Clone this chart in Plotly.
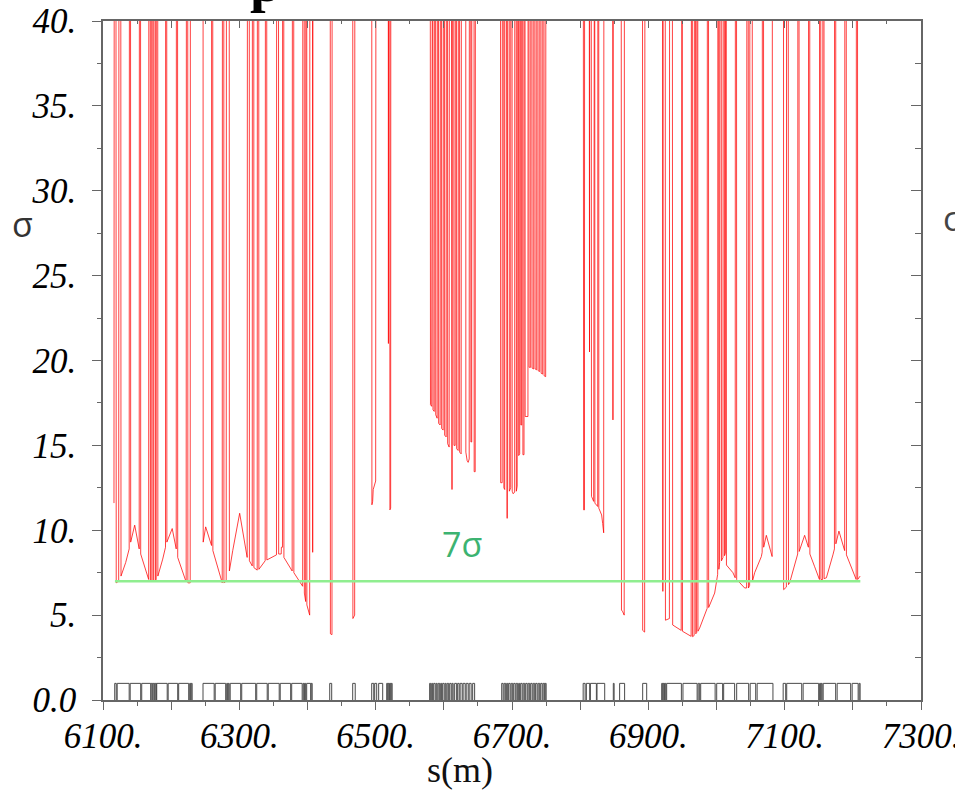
import plotly.graph_objects as go

# ---- aperture (n-sigma) along the ring, s in metres -------------------------
# values above the frame (60) are where the aperture is wide open
arc_left_s = [
    6116.1, 6116.6, 6118.9, 6119.4, 6123.0, 6123.5, 6126.0, 6126.4, 6133.3, 6138.4,
    6138.9, 6140.3, 6140.6, 6146.5, 6153.1, 6153.5, 6155.0, 6155.3, 6167.0, 6167.3,
    6169.2, 6169.5, 6170.7, 6171.0, 6172.9, 6173.2, 6174.4, 6174.7, 6176.6, 6176.9,
    6178.0, 6178.3, 6180.2, 6180.5, 6187.6, 6191.7, 6192.0, 6193.4, 6193.7, 6201.5,
    6207.4, 6207.8, 6209.3, 6209.6, 6222.0, 6222.5, 6224.2, 6224.5, 6227.9, 6228.3,
    6246.7, 6247.0, 6250.6, 6259.2, 6259.4, 6260.9, 6261.2, 6274.9, 6275.3, 6277.1,
    6277.4, 6280.7, 6281.2, 6285.1, 6285.4, 6290.3, 6300.5, 6311.5, 6312.0, 6314.5,
    6314.8, 6318.9, 6319.3, 6321.1, 6321.4, 6326.2, 6326.6, 6328.4, 6328.7, 6337.9,
    6338.4, 6340.1, 6340.4, 6354.5, 6354.8, 6357.4, 6357.7, 6361.4, 6361.7, 6363.3,
    6363.6, 6365.1, 6365.4, 6377.5, 6378.0, 6379.7, 6380.0, 6384.1, 6392.9, 6393.2,
    6395.1, 6395.4, 6397.3, 6397.6, 6398.8, 6399.1, 6403.2, 6403.5, 6407.3, 6407.6,
    6408.1, 6433.3, 6433.6, 6435.9, 6436.2, 6466.3, 6466.6, 6469.2, 6469.5, 6494.2,
    6494.5, 6495.6, 6496.4, 6500.0, 6500.5, 6518.4, 6518.7, 6519.1, 6520.6, 6520.9,
    6522.0, 6522.3,
]
arc_left_sigma = [
    11.6, 60, 60, 6.9, 7.0, 60, 60, 7.3, 8.1, 8.9,
    60, 60, 9.3, 10.3, 8.9, 60, 60, 8.6, 7.1, 60,
    60, 7.0, 7.0, 60, 60, 7.0, 7.0, 60, 60, 7.05,
    7.1, 60, 60, 7.3, 8.3, 9.0, 60, 60, 9.3, 10.1,
    8.9, 60, 60, 8.4, 6.95, 60, 60, 6.9, 6.9, 60,
    60, 9.3, 10.2, 9.1, 60, 60, 8.8, 6.9, 60, 60,
    6.9, 7.0, 60, 60, 7.6, 8.8, 11.0, 8.4, 60, 60,
    8.2, 7.9, 60, 60, 7.8, 7.65, 60, 60, 7.7, 8.2,
    60, 60, 8.25, 8.55, 60, 60, 8.6, 8.6, 9.0, 9.0,
    60, 60, 8.4, 7.6, 60, 60, 7.5, 7.25, 6.7, 60,
    60, 6.3, 5.8, 60, 60, 5.6, 5.0, 60, 60, 8.7,
    60, 60, 3.9, 3.85, 60, 60, 4.8, 5.0, 60, 60,
    11.5, 11.7, 12.4, 12.9, 60, 60, 21.0, 60, 60, 11.2,
    11.3, 60,
]

straight_a_s = [
    6580.0, 6580.4, 6582.2, 6582.6, 6583.6, 6584.1, 6585.9, 6586.3, 6587.8, 6588.1,
    6590.2, 6590.7, 6592.1, 6592.4, 6594.6, 6595.1, 6596.6, 6596.8, 6599.0, 6599.5,
    6601.0, 6601.2, 6603.4, 6603.9, 6605.4, 6605.6, 6607.8, 6608.3, 6610.8, 6612.0,
    6613.0, 6614.4, 6614.9, 6616.6, 6617.1, 6618.6, 6618.8, 6621.0, 6621.5, 6623.0,
    6623.2, 6625.4, 6625.9, 6632.1, 6632.3, 6634.2, 6635.7, 6637.2, 6637.6, 6639.4,
    6639.7, 6640.9, 6641.1, 6644.2, 6644.5, 6646.0, 6646.4,
]
straight_a_sigma = [
    60, 17.4, 17.3, 60, 60, 17.1, 17.0, 60, 60, 16.8,
    16.6, 60, 60, 16.3, 16.2, 60, 60, 16.0, 15.9, 60,
    60, 15.6, 15.5, 60, 60, 15.1, 14.9, 60, 60, 12.4,
    60, 60, 15.0, 15.0, 60, 60, 14.8, 14.7, 60, 60,
    14.6, 14.5, 60, 60, 14.6, 14.1, 14.0, 14.2, 60, 60,
    15.2, 15.2, 60, 60, 13.45, 13.45, 60,
]

straight_b_s = [
    6683.1, 6683.4, 6685.6, 6686.0, 6687.8, 6688.1, 6689.3, 6689.5, 6691.4, 6692.9,
    6694.1, 6695.9, 6696.1, 6698.1, 6698.3, 6700.0, 6700.3, 6701.7, 6703.9, 6704.2,
    6706.1, 6706.4, 6707.6, 6707.9, 6709.3, 6709.8, 6711.3, 6711.6, 6712.7, 6713.0,
    6714.2, 6714.5, 6715.7, 6716.0, 6717.6, 6717.9, 6719.0, 6719.3, 6723.4, 6723.7,
    6724.8, 6725.1, 6727.4, 6727.7, 6729.2, 6729.5, 6731.8, 6732.1, 6733.6, 6733.9,
    6736.2, 6736.5, 6738.0, 6738.3, 6740.6, 6740.9, 6742.4, 6742.7, 6745.0, 6745.3,
    6746.8, 6747.1, 6749.4, 6749.8,
]
straight_b_sigma = [
    60, 12.8, 12.8, 60, 60, 12.5, 12.4, 60, 60, 10.7,
    60, 60, 12.3, 12.5, 60, 60, 12.3, 12.15, 12.25, 60,
    60, 12.3, 12.6, 60, 60, 14.4, 14.5, 60, 60, 16.2,
    16.2, 60, 60, 14.45, 14.45, 60, 60, 16.7, 16.7, 60,
    60, 19.6, 19.6, 60, 60, 19.55, 19.5, 60, 60, 19.5,
    19.45, 60, 60, 19.4, 19.35, 60, 60, 19.25, 19.2, 60,
    60, 19.1, 19.05, 60,
]

arc_right_s = [
    6804.4, 6805.1, 6806.3, 6806.6, 6813.2, 6813.7, 6814.2, 6816.1, 6816.6, 6819.8,
    6820.3, 6821.3, 6821.6, 6825.7, 6826.1, 6827.2, 6827.4, 6831.5, 6833.0, 6834.5,
    6834.9, 6847.7, 6848.1, 6848.7, 6860.1, 6860.6, 6862.4, 6864.6, 6865.0, 6891.4,
    6891.7, 6894.6, 6895.1, 6920.7, 6921.3, 6921.9, 6924.7, 6925.1, 6930.9, 6931.3,
    6935.1, 6935.7, 6948.2, 6948.6, 6949.6, 6950.1, 6962.8, 6963.3, 6964.4, 6964.9,
    6967.2, 6967.7, 6969.1, 6969.6, 6970.9, 6971.3, 6972.4, 6972.8, 6975.3, 6986.3,
    6986.7, 6988.2, 6988.5, 6997.3, 7001.7, 7002.2, 7003.2, 7003.5, 7004.6, 7005.1,
    7006.8, 7007.3, 7009.5, 7009.9, 7011.4, 7011.8, 7013.0, 7013.4, 7014.2, 7014.6,
    7024.1, 7027.4, 7027.8, 7029.3, 7029.6, 7041.3, 7044.2, 7044.7, 7046.4, 7046.9,
    7048.6, 7049.1, 7052.3, 7052.8, 7056.0, 7065.8, 7067.0, 7067.4, 7068.9, 7069.2,
    7073.1, 7081.6, 7082.1, 7098.2, 7098.5, 7102.5, 7102.9, 7105.1, 7105.6, 7107.3,
    7119.1, 7119.5, 7121.0, 7121.3, 7129.3, 7134.8, 7135.2, 7136.7, 7137.0, 7144.0,
    7151.0, 7151.3, 7152.8, 7153.2, 7155.7, 7156.2, 7157.6, 7157.9, 7161.2, 7170.8,
    7173.0, 7173.3, 7174.8, 7175.1, 7179.6, 7188.0, 7188.4, 7190.2, 7190.6, 7204.9,
    7205.3, 7206.8, 7207.1, 7210.7,
]
arc_right_sigma = [
    60, 11.2, 11.2, 60, 60, 20.5, 60, 60, 12.0, 11.7,
    60, 60, 11.6, 11.4, 60, 60, 11.3, 10.9, 10.4, 9.85,
    60, 60, 16.5, 60, 60, 5.3, 5.2, 5.0, 60, 60,
    4.1, 4.0, 60, 60, 6.4, 60, 60, 4.7, 4.8, 60,
    60, 4.42, 4.1, 60, 60, 4.05, 3.75, 60, 60, 3.73,
    3.8, 60, 60, 3.9, 3.96, 60, 60, 4.05, 4.24, 5.4,
    60, 60, 5.45, 6.3, 7.4, 60, 60, 7.7, 8.1, 60,
    60, 8.2, 8.4, 60, 60, 8.5, 8.65, 60, 60, 7.95,
    7.5, 7.2, 60, 60, 7.1, 6.6, 6.6, 60, 60, 6.6,
    6.75, 60, 60, 7.0, 7.5, 8.45, 8.7, 60, 60, 9.0,
    9.7, 8.45, 60, 60, 6.5, 6.65, 60, 60, 6.8, 6.9,
    8.6, 60, 60, 8.75, 9.7, 9.0, 60, 60, 8.6, 7.85,
    7.1, 60, 60, 7.1, 7.1, 60, 60, 7.15, 7.2, 8.55,
    8.9, 60, 60, 9.2, 9.95, 8.8, 60, 60, 8.55, 7.1,
    60, 60, 7.1, 7.3,
]

# ---- lattice elements (start / end in s) -----------------------------------
elem_start = [
    6117.2, 6120.8, 6139.9, 6156.8, 6170.7, 6173.6, 6176.6, 6178.8, 6195.6, 6211.0,
    6227.2, 6229.4,
    6246.7, 6264.6, 6281.5, 6283.7, 6286.6, 6303.5, 6325.5, 6342.4, 6360.0, 6376.8,
    6393.7, 6395.9, 6398.8, 6405.4,
    6432.6, 6466.3, 6494.2, 6498.6, 6504.4, 6516.2, 6518.4, 6520.6, 6522.8,
    6579.2, 6582.2, 6585.1, 6588.8, 6591.7, 6595.4, 6598.3, 6602.0, 6604.9, 6608.6,
    6612.2, 6615.9, 6620.3, 6623.9, 6628.3, 6632.8, 6637.2, 6642.3,
    6684.9, 6688.5, 6692.2, 6695.1, 6698.8, 6702.5, 6706.1, 6709.8, 6712.7, 6716.4,
    6720.1, 6723.7, 6727.4, 6731.1, 6734.7, 6738.4, 6742.1, 6745.7, 6748.7,
    6804.4, 6809.1, 6815.0, 6824.7, 6848.6, 6857.9, 6891.7,
    6919.6, 6921.8, 6924.0, 6926.9, 6950.8, 6973.1, 6976.8, 7000.3, 7010.5, 7029.6,
    7049.4, 7059.6,
    7097.8, 7103.0, 7127.1, 7151.3, 7153.6, 7156.5, 7177.0, 7199.0, 7209.3,
]
elem_end = [
    6119.4, 6138.4, 6155.3, 6170.0, 6172.9, 6175.8, 6178.3, 6194.2, 6209.6, 6225.7,
    6228.6, 6230.8,
    6263.1, 6280.0, 6282.9, 6285.1, 6302.0, 6324.0, 6340.9, 6358.5, 6375.3, 6392.2,
    6395.1, 6397.3, 6404.7, 6406.9,
    6435.5, 6470.0, 6497.2, 6501.5, 6510.3, 6517.7, 6519.9, 6522.1, 6524.2,
    6580.7, 6583.6, 6587.3, 6590.2, 6593.9, 6596.8, 6600.5, 6603.4, 6607.1, 6610.8,
    6613.7, 6618.8, 6622.5, 6626.9, 6631.3, 6635.7, 6640.1, 6645.2,
    6687.0, 6690.7, 6693.7, 6697.3, 6701.0, 6704.7, 6708.3, 6711.2, 6714.9, 6718.6,
    6722.3, 6725.9, 6729.6, 6733.3, 6736.9, 6740.6, 6744.3, 6747.9, 6750.1,
    6807.3, 6814.0, 6823.8, 6836.0, 6849.8, 6865.2, 6897.6,
    6921.1, 6923.3, 6925.5, 6948.5, 6971.6, 6975.3, 6998.0, 7009.0, 7026.6, 7047.2,
    7057.5, 7082.8,
    7101.5, 7125.0, 7149.9, 7152.8, 7155.0, 7174.8, 7196.8, 7207.8, 7210.7,
]
ELEMENT_HEIGHT = 0.98

# ---- 7-sigma reference ------------------------------------------------------
threshold_s = [6117.5, 7211.0]
threshold_sigma = [7.0, 7.0]

x_tick_vals = [6100, 6200, 6300, 6400, 6500, 6600, 6700, 6800, 6900, 7000, 7100, 7200, 7300]
x_tick_text = ["6100.", "", "6300.", "", "6500.", "", "6700.", "", "6900.", "", "7100.", "", "7300."]
y_tick_vals = [0, 5, 10, 15, 20, 25, 30, 35, 40]
y_tick_text = ["0.0", "5.", "10.", "15.", "20.", "25.", "30.", "35.", "40."]

s_all = arc_left_s + straight_a_s + straight_b_s + arc_right_s
sigma_all = arc_left_sigma + straight_a_sigma + straight_b_sigma + arc_right_sigma

# element outline path: rectangles standing on the s axis
ex, ey = [], []
for a, b in zip(elem_start, elem_end):
    ex += [a, a, b, b, None]
    ey += [0, ELEMENT_HEIGHT, ELEMENT_HEIGHT, 0, None]

AX = "#666666"
tick_font = dict(family="Liberation Serif", size=35, color="black", style="italic")

fig = go.Figure()
fig.add_trace(go.Scatter(x=ex, y=ey, mode="lines",
                         line=dict(color="#4a4a4a", width=1), hoverinfo="skip"))
fig.add_trace(go.Scatter(x=s_all, y=sigma_all, mode="lines",
                         line=dict(color="rgba(255,0,0,0.75)", width=1)))
# the threshold lives on the mirrored (top/right) axes so it is drawn over the aperture
fig.add_trace(go.Scatter(x=threshold_s, y=threshold_sigma, mode="lines",
                         xaxis="x2", yaxis="y2",
                         line=dict(color="#90ee90", width=2.5)))

fig.update_layout(
    width=955, height=791,
    margin=dict(l=103, r=34, t=21, b=91, autoexpand=False),
    plot_bgcolor="white", paper_bgcolor="white",
    showlegend=False,
    xaxis=dict(range=[6100, 7300], showgrid=False, zeroline=False, automargin=False,
               showline=True, linecolor=AX, linewidth=1.5,
               tickmode="array", tickvals=x_tick_vals, ticktext=x_tick_text,
               ticks="outside", ticklen=8, tickwidth=1.2, tickcolor=AX,
               tickfont=tick_font, ticklabeloverflow="allow", ticklabelstandoff=-4,
               minor=dict(tickmode="linear", tick0=6100, dtick=50, ticks="outside",
                          ticklen=4, tickwidth=1.2, tickcolor=AX, showgrid=False)),
    yaxis=dict(range=[0, 40], showgrid=False, zeroline=False, automargin=False,
               showline=True, linecolor=AX, linewidth=1.5,
               tickmode="array", tickvals=y_tick_vals, ticktext=y_tick_text,
               ticks="outside", ticklen=9, tickwidth=1.2, tickcolor=AX,
               tickfont=tick_font, ticklabeloverflow="allow", ticklabelstandoff=9,
               minor=dict(tickmode="linear", tick0=0, dtick=2.5, ticks="outside",
                          ticklen=4.5, tickwidth=1.2, tickcolor=AX, showgrid=False)),
    xaxis2=dict(range=[6100, 7300], overlaying="x", side="top", anchor="y2",
                automargin=False,
                showgrid=False, zeroline=False, showline=True, linecolor=AX, linewidth=1.5,
                tickmode="array", tickvals=x_tick_vals, showticklabels=False,
                ticks="inside", ticklen=7, tickwidth=1.2, tickcolor=AX,
                minor=dict(tickmode="linear", tick0=6100, dtick=50, ticks="inside",
                           ticklen=3.5, tickwidth=1.2, tickcolor=AX, showgrid=False)),
    yaxis2=dict(range=[0, 40], overlaying="y", side="right", anchor="x2",
                automargin=False,
                showgrid=False, zeroline=False, showline=True, linecolor=AX, linewidth=1.5,
                tickmode="array", tickvals=y_tick_vals, showticklabels=False,
                ticks="inside", ticklen=10, tickwidth=1.2, tickcolor=AX,
                minor=dict(tickmode="linear", tick0=0, dtick=2.5, ticks="inside",
                           ticklen=6, tickwidth=1.2, tickcolor=AX, showgrid=False)),
)

# axis titles and labels
fig.add_annotation(text="s(m)", xref="paper", yref="paper", x=0.4364, y=-0.1031,
                   xanchor="center", yanchor="middle", showarrow=False,
                   font=dict(family="Liberation Serif", size=36, color="#111"))
fig.add_annotation(text="σ", xref="paper", yref="paper", x=-0.0978, y=0.7010,
                   xanchor="center", yanchor="middle", showarrow=False,
                   font=dict(family="Open Sans", size=34, color="#333"))
fig.add_annotation(text="σ", xref="paper", yref="paper", x=1.0244, y=0.7100,
                   xanchor="left", yanchor="middle", showarrow=False,
                   font=dict(family="Open Sans", size=34, color="#444"))
fig.add_annotation(text="7σ", x=6626, y=9.2, xref="x", yref="y",
                   xanchor="center", yanchor="middle", showarrow=False,
                   font=dict(family="Open Sans", size=34, color="#3cb371"))
fig.add_annotation(text="p", xref="paper", yref="paper", x=0.178, y=1.0103,
                   xanchor="left", yanchor="bottom", showarrow=False, borderpad=0,
                   font=dict(family="Liberation Serif", size=56, color="black", weight="bold"))

fig.write_html("out.html")
